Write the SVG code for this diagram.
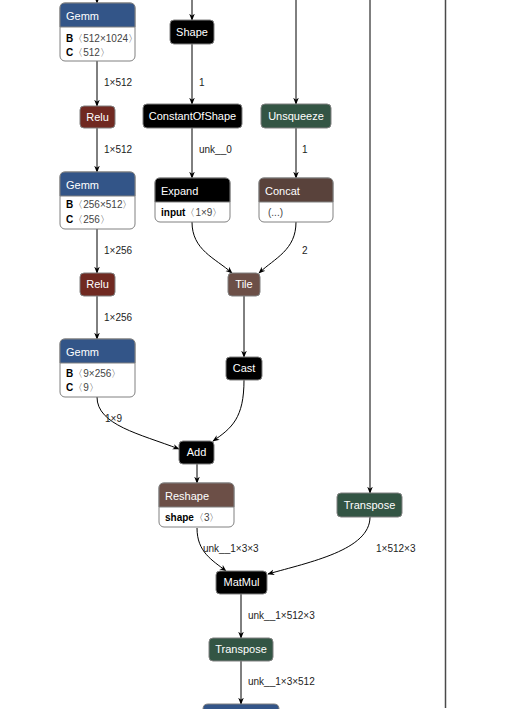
<svg xmlns="http://www.w3.org/2000/svg" width="515" height="709" viewBox="0 0 515 709">
<defs>
<marker id="ah" viewBox="0 0 10 10" refX="9" refY="5" markerWidth="7" markerHeight="7" markerUnits="userSpaceOnUse" orient="auto">
<path d="M0,1 L10,5 L0,9 L3,5 Z" fill="#000"/>
</marker>
<style>
.e{fill:none;stroke:#000;stroke-width:1}
.ea{fill:none;stroke:#000;stroke-width:1;marker-end:url(#ah)}
.lbl{font-family:"Liberation Sans",Arial,sans-serif;font-size:10px;fill:#222}
.t{font-family:"Liberation Sans",Arial,sans-serif;font-size:11px;fill:#fff}
.tc{font-family:"Liberation Sans",Arial,sans-serif;font-size:11px;fill:#fff;text-anchor:middle}
.b{font-family:"Liberation Sans",Arial,sans-serif;font-size:10px;fill:#000}
.bn{font-weight:bold}
.bv{fill:#444}
.box{fill:#fff;stroke:#808080;stroke-width:1}
.bd{stroke:#808080;stroke-width:1}
.layer{fill:#335588}
.act{fill:#702921}
.blk{fill:#000}
.tr{fill:#335544}
.tens{fill:#59423b}
.shp{fill:#6c4f47}
</style>
</defs>

<g id="connectors">
<line class="ea" x1="97" y1="-5" x2="97" y2="3"/>
<line class="ea" x1="192" y1="0" x2="192" y2="20"/>
<line class="ea" x1="296" y1="0" x2="296" y2="104"/>
<line class="ea" x1="370" y1="0" x2="370" y2="493"/>
<line x1="445.5" y1="0" x2="445.5" y2="708" stroke="#4a4a4a" stroke-width="1.5"/>
<line class="ea" x1="97" y1="61" x2="97" y2="106"/>
<line class="ea" x1="97" y1="128" x2="97" y2="172"/>
<line class="ea" x1="97" y1="229" x2="97" y2="273"/>
<line class="ea" x1="97" y1="296" x2="97" y2="339"/>
<path class="ea" d="M97,397 C97,425 140,434 179,449"/>
<line class="ea" x1="192" y1="44" x2="192" y2="104"/>
<line class="ea" x1="192" y1="128" x2="192" y2="178"/>
<line class="ea" x1="296" y1="128" x2="296" y2="178"/>
<path class="ea" d="M192,222 C192,250 215,258 232,273"/>
<path class="ea" d="M296,222 C296,250 275,258 259,273"/>
<line class="ea" x1="244" y1="296" x2="244" y2="357"/>
<path class="ea" d="M244,380 C244,418 232,428 213,441"/>
<line class="ea" x1="197" y1="464" x2="197" y2="483"/>
<path class="ea" d="M197,528 C197,552 212,560 226,571"/>
<path class="ea" d="M370,517 C370,550 310,562 268,574"/>
<line class="ea" x1="241" y1="594" x2="241" y2="638"/>
<line class="ea" x1="241" y1="661" x2="241" y2="704"/>
<text class="lbl" x="104" y="86">1×512</text>
<text class="lbl" x="104" y="153">1×512</text>
<text class="lbl" x="104" y="254">1×256</text>
<text class="lbl" x="104" y="321">1×256</text>
<text class="lbl" x="105" y="422">1×9</text>
<text class="lbl" x="199" y="86">1</text>
<text class="lbl" x="199" y="153">unk__0</text>
<text class="lbl" x="302" y="153">1</text>
<text class="lbl" x="302" y="254">2</text>
<text class="lbl" x="203" y="552">unk__1×3×3</text>
<text class="lbl" x="376" y="552">1×512×3</text>
<text class="lbl" x="248" y="619">unk__1×512×3</text>
<text class="lbl" x="248" y="685">unk__1×3×512</text>
</g>

<g id="gemm1">
<rect class="box" x="60" y="3" width="75" height="58" rx="5"/>
<path class="layer bd" d="M60,27 V8 Q60,3 65,3 H130 Q135,3 135,8 V27 Z"/>
<text class="t" x="66" y="20">Gemm</text>
<text class="b" x="66" y="42"><tspan class="bn">B</tspan><tspan class="bv">〈512×1024〉</tspan></text>
<text class="b" x="66" y="56"><tspan class="bn">C</tspan><tspan class="bv">〈512〉</tspan></text>
</g>

<g id="relu1">
<rect class="act bd" x="80" y="106" width="35" height="22" rx="4"/>
<text class="tc" x="97.5" y="121">Relu</text>
</g>

<g id="gemm2">
<rect class="box" x="60" y="172" width="75" height="57" rx="5"/>
<path class="layer bd" d="M60,196 V177 Q60,172 65,172 H130 Q135,172 135,177 V196 Z"/>
<text class="t" x="66" y="189">Gemm</text>
<text class="b" x="66" y="208"><tspan class="bn">B</tspan><tspan class="bv">〈256×512〉</tspan></text>
<text class="b" x="66" y="223"><tspan class="bn">C</tspan><tspan class="bv">〈256〉</tspan></text>
</g>

<g id="relu2">
<rect class="act bd" x="80" y="273" width="35" height="23" rx="4"/>
<text class="tc" x="97.5" y="288">Relu</text>
</g>

<g id="gemm3">
<rect class="box" x="60" y="339" width="75" height="58" rx="5"/>
<path class="layer bd" d="M60,363 V344 Q60,339 65,339 H130 Q135,339 135,344 V363 Z"/>
<text class="t" x="66" y="356">Gemm</text>
<text class="b" x="66" y="377"><tspan class="bn">B</tspan><tspan class="bv">〈9×256〉</tspan></text>
<text class="b" x="66" y="391"><tspan class="bn">C</tspan><tspan class="bv">〈9〉</tspan></text>
</g>

<g id="shape">
<rect class="blk bd" x="170" y="20" width="44" height="24" rx="4"/>
<text class="tc" x="192" y="36">Shape</text>
</g>

<g id="constantofshape">
<rect class="blk bd" x="143" y="104" width="99" height="24" rx="4"/>
<text class="tc" x="192.5" y="120">ConstantOfShape</text>
</g>

<g id="unsqueeze">
<rect class="tr bd" x="261" y="104" width="70" height="24" rx="4"/>
<text class="tc" x="296" y="120">Unsqueeze</text>
</g>

<g id="expand">
<rect class="box" x="155" y="178" width="75" height="44" rx="5"/>
<path class="blk bd" d="M155,202 V183 Q155,178 160,178 H225 Q230,178 230,183 V202 Z"/>
<text class="t" x="161" y="195">Expand</text>
<text class="b" x="161" y="216"><tspan class="bn">input</tspan><tspan class="bv">〈1×9〉</tspan></text>
</g>

<g id="concat">
<rect class="box" x="259" y="178" width="74" height="44" rx="5"/>
<path class="tens bd" d="M259,202 V183 Q259,178 264,178 H328 Q333,178 333,183 V202 Z"/>
<text class="t" x="265" y="195">Concat</text>
<text class="b" x="268" y="216"><tspan class="bv">(...)</tspan></text>
</g>

<g id="tile">
<rect class="shp bd" x="228" y="273" width="32" height="23" rx="4"/>
<text class="tc" x="244" y="288">Tile</text>
</g>

<g id="cast">
<rect class="blk bd" x="226" y="357" width="36" height="23" rx="4"/>
<text class="tc" x="244" y="372">Cast</text>
</g>

<g id="add">
<rect class="blk bd" x="179" y="441" width="35" height="23" rx="4"/>
<text class="tc" x="196.5" y="456">Add</text>
</g>

<g id="reshape">
<rect class="box" x="159" y="483" width="75" height="44" rx="5"/>
<path class="shp bd" d="M159,507 V488 Q159,483 164,483 H229 Q234,483 234,488 V507 Z"/>
<text class="t" x="165" y="500">Reshape</text>
<text class="b" x="165" y="521"><tspan class="bn">shape</tspan><tspan class="bv">〈3〉</tspan></text>
</g>

<g id="transpose1">
<rect class="tr bd" x="337" y="493" width="65" height="24" rx="4"/>
<text class="tc" x="369.5" y="509">Transpose</text>
</g>

<g id="matmul">
<rect class="blk bd" x="216" y="571" width="51" height="23" rx="4"/>
<text class="tc" x="241.5" y="586">MatMul</text>
</g>

<g id="transpose2">
<rect class="tr bd" x="209" y="638" width="64" height="23" rx="4"/>
<text class="tc" x="241" y="653">Transpose</text>
</g>

<g id="gemm4">
<path class="layer bd" d="M203,720 V709 Q203,704 208,704 H274 Q279,704 279,709 V720 Z"/>
</g>
</svg>
